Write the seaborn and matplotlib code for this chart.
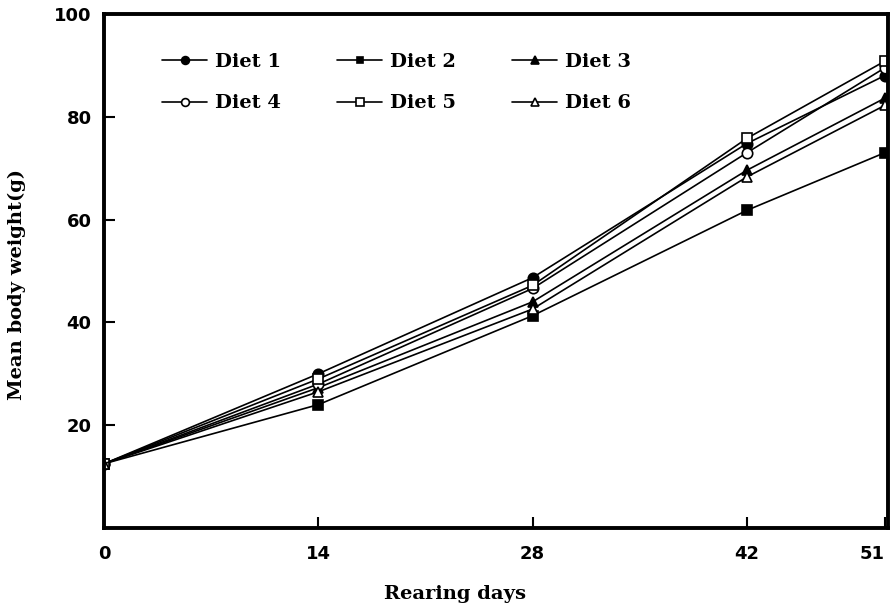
import matplotlib
matplotlib.use('Agg')
import matplotlib.pyplot as plt
import pandas as pd
import seaborn as sns

days = [0, 14, 28, 42, 51]
diet_1 = [12.5, 30.0, 48.7, 74.8, 88.0]
diet_2 = [12.5, 24.0, 41.3, 61.8, 73.0]
diet_3 = [12.5, 27.3, 44.0, 69.6, 83.6]
diet_4 = [12.5, 28.0, 46.6, 73.0, 89.5]
diet_5 = [12.5, 29.0, 47.2, 75.8, 90.8]
diet_6 = [12.5, 26.5, 42.6, 68.3, 82.2]

diets = ['Diet 1', 'Diet 2', 'Diet 3', 'Diet 4', 'Diet 5', 'Diet 6']
series = [diet_1, diet_2, diet_3, diet_4, diet_5, diet_6]
x_ticks = [0, 14, 28, 42, 51]
y_ticks = [20, 40, 60, 80, 100]

rows = []
for name, vals in zip(diets, series):
    for d, v in zip(days, vals):
        rows.append({'diet': name, 'day': d, 'weight': v})
df = pd.DataFrame(rows)

sns.set_style('ticks')
plt.rcParams['font.family'] = ['DejaVu Sans']
plt.rcParams['text.color'] = 'black'
plt.rcParams['axes.labelcolor'] = 'black'
plt.rcParams['xtick.color'] = 'black'
plt.rcParams['ytick.color'] = 'black'

marker_list = ['o', 's', '^', 'o', 's', '^']
face_list = ['black', 'black', 'black', 'white', 'white', 'white']
size_list = [7.5, 6.5, 7, 7.5, 7, 7]

fig = plt.figure(figsize=(8.93, 6.09), dpi=100)
ax = fig.add_axes([0.1165, 0.133, 0.8775, 0.844])

for name, m, fc, ms in zip(diets, marker_list, face_list, size_list):
    sns.lineplot(data=df[df['diet'] == name], x='day', y='weight',
                 color='black', marker=m, markerfacecolor=fc,
                 markeredgecolor='black', markersize=ms, markeredgewidth=1.2,
                 linewidth=1.2, label=name, ax=ax)

ax.set_xlim(0, 51.2)
ax.set_ylim(0, 100)
ax.set_xticks(x_ticks)
ax.set_yticks(y_ticks)
ax.set_xticklabels([str(t) for t in x_ticks], fontsize=13, fontweight='bold')
ax.set_yticklabels([str(t) for t in y_ticks], fontsize=13, fontweight='bold')
ax.tick_params(axis='x', direction='in', length=8, width=1.5, pad=12)
ax.tick_params(axis='y', direction='in', length=8, width=1.5, pad=9)
ax.get_xticklabels()[-1].set_horizontalalignment('right')
ax.get_xticklabels()[-1].set_x(51.2)

for s in ax.spines.values():
    s.set_linewidth(2.8)
    s.set_color('black')

ax.set_xlabel('Rearing days', fontsize=14, fontweight='bold',
              family='DejaVu Serif')
ax.set_ylabel('Mean body weight(g)', fontsize=14, fontweight='bold',
              family='DejaVu Serif')
ax.xaxis.set_label_coords(0.448, -0.11)
ax.yaxis.set_label_coords(-0.1, 0.473)

# rows: Diet 1-3 on top, Diet 4-6 below
handles, labels = ax.get_legend_handles_labels()
order = [0, 3, 1, 4, 2, 5]
ax.legend([handles[i] for i in order], [labels[i] for i in order],
          ncol=3, frameon=False, loc='upper left',
          bbox_to_anchor=(0.052, 0.958), handlelength=2.3,
          handletextpad=0.4, columnspacing=2.9, labelspacing=1.2,
          markerscale=0.75,
          prop={'family': 'DejaVu Serif', 'weight': 'bold', 'size': 14})

fig.savefig('out.png', dpi=100)
